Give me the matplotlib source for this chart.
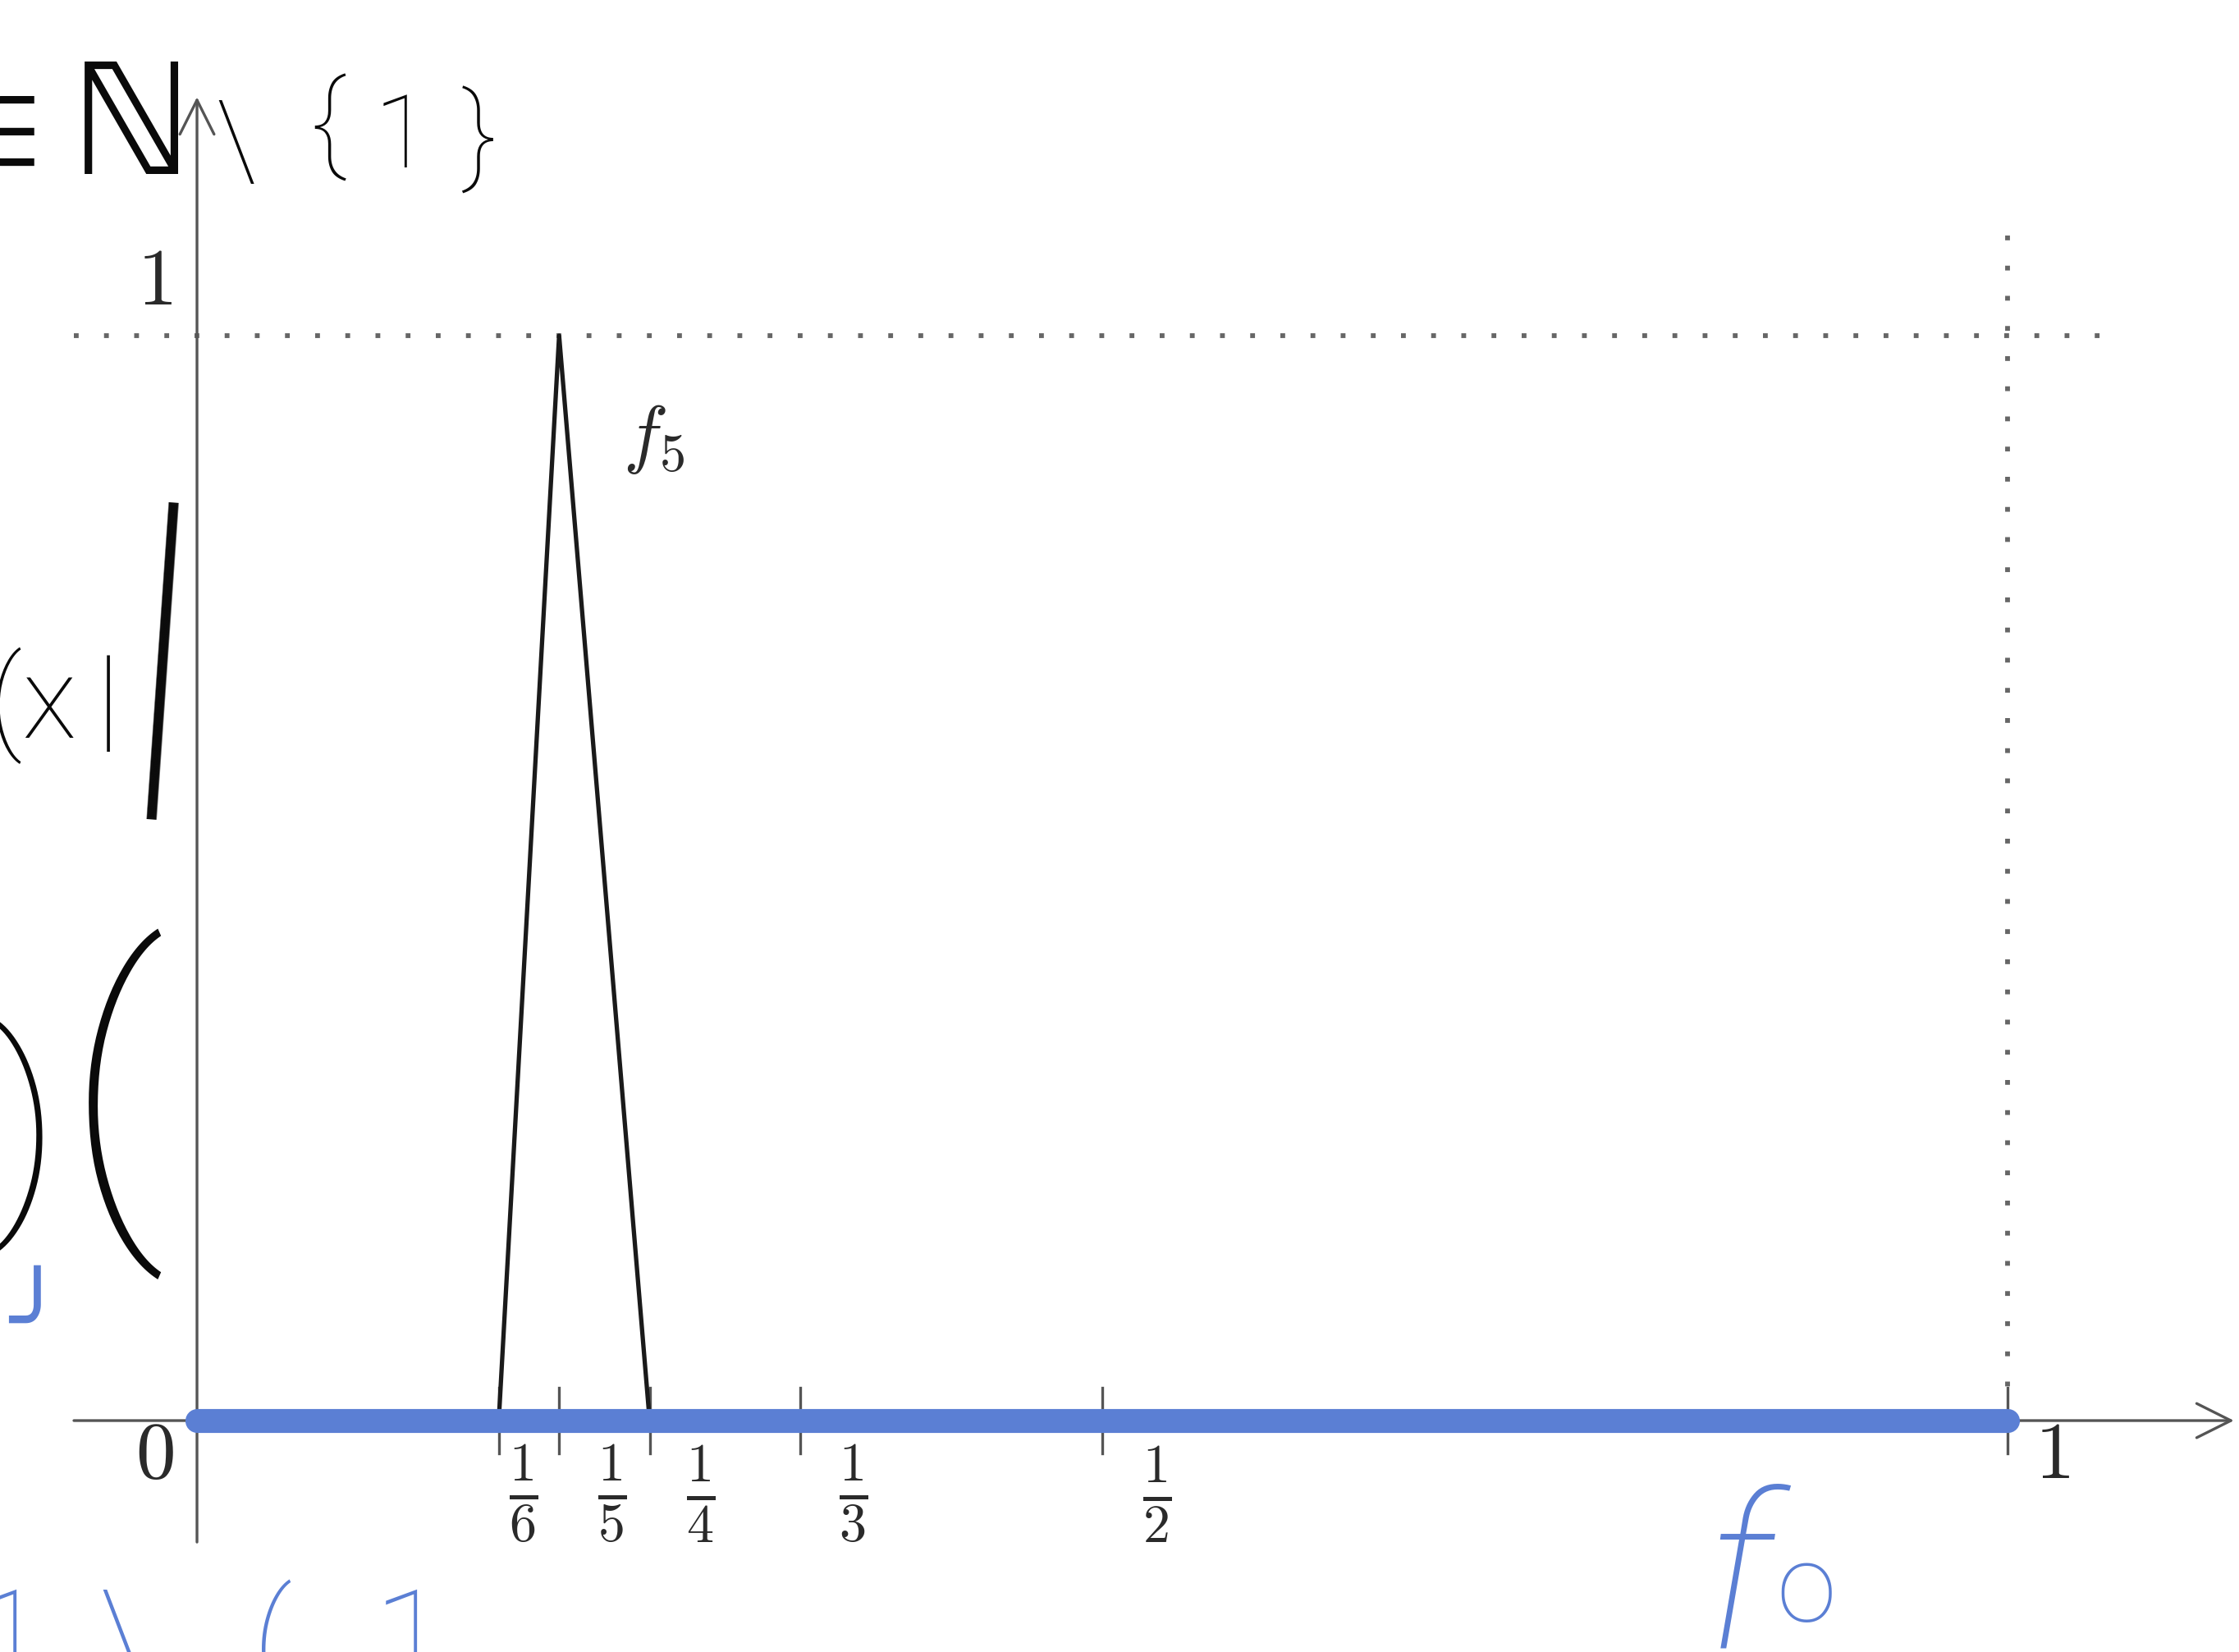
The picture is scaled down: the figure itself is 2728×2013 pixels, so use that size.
import numpy as np
import matplotlib
matplotlib.use("Agg")
import matplotlib.pyplot as plt

plt.rcParams['mathtext.fontset'] = 'cm'

# ─── Données ──────────────────────────────────────────────────────────────────
f5_x = [1/6, 1/5, 1/4]          # triangle f_5
f5_y = [0, 1, 0]
f0_x = [0, 1]                   # fonction nulle f_0
f0_y = [0, 0]
tick_vals = [1/6, 1/5, 1/4, 1/3, 1/2]
tick_labels = [r'$\frac{1}{6}$', r'$\frac{1}{5}$', r'$\frac{1}{4}$',
               r'$\frac{1}{3}$', r'$\frac{1}{2}$']
label_shift = [0.0135, 0.029, 0.028, 0.029, 0.030]   # décalage des étiquettes

GRIS  = "#555555"
NOIR  = "#1a1a1a"
BLEU  = "#5B7FD4"
ENCRE = "#0a0a0a"
MAIN  = 'Roboto'          # "écriture" manuscrite
SYMB  = 'DejaVu Sans'     # symboles absents de Roboto

W, H = 2728, 2013
fig = plt.figure(figsize=(W / 100, H / 100), dpi=100)
ax = fig.add_axes([0, 0, 1, 1])
ax.set_xlim(-0.1088, 1.1278)
ax.set_ylim(-0.2133, 1.3094)
ax.axis('off')

# ── Axes ─────────────────────────────────────────────────────────────────────
ax.annotate('', xy=(1.125, 0), xytext=(-0.068, 0),
            arrowprops=dict(arrowstyle='->', color=GRIS, lw=2.4,
                            mutation_scale=75, shrinkA=0, shrinkB=0))
ax.annotate('', xy=(0, 1.22), xytext=(0, -0.112),
            arrowprops=dict(arrowstyle='->', color=GRIS, lw=2.4,
                            mutation_scale=75, shrinkA=0, shrinkB=0))

# pointillés y = 1 et x = 1
ax.plot([-0.068, 1.054], [1, 1], color="#666666", lw=4.2, dashes=(1, 5.3))
ax.plot([1, 1], [1.092, 0], color="#666666", lw=4.2, dashes=(1, 5.3))

# graduations
for xv in tick_vals + [1]:
    ax.plot([xv, xv], [-0.03, 0.03], color=GRIS, lw=2.4)

# ── Courbes ──────────────────────────────────────────────────────────────────
ax.plot(f5_x, f5_y, color=NOIR, lw=3.8, zorder=3)
ax.plot(f0_x, f0_y, color=BLEU, lw=21, solid_capstyle='round', zorder=4)

# ── Étiquettes ───────────────────────────────────────────────────────────────
for xv, lab, dx in zip(tick_vals, tick_labels, label_shift):
    ax.text(xv + dx, -0.068, lab, fontsize=68, color="#2a2a2a",
            ha='center', va='center')
ax.text(-0.0236, -0.033, r'$0$', fontsize=70, color="#2a2a2a", ha='center', va='center')
ax.text(1.0245, -0.033, r'$1$', fontsize=70, color="#2a2a2a", ha='center', va='center')
ax.text(-0.0236, 1.049, r'$1$', fontsize=70, color="#2a2a2a", ha='center', va='center')
ax.text(0.2525, 0.905, r'$f_5$', fontsize=66, color="#2a2a2a", ha='center', va='center')

# ── Annotations manuscrites (positions en pixels de la figure) ──────────────
def main(px, py, s, size, color=ENCRE, family=MAIN, weight='light', **kw):
    fig.text(px / W, 1 - py / H, s, fontsize=size, color=color,
             ha='center', va='center', family=family, weight=weight, **kw)

# en haut : ∈ ℕ \ {1}
main(0, 168, "∈", 85, family=SYMB, weight='normal')
main(160, 160, "ℕ", 135, family=SYMB, weight='normal')
main(287, 180, "\\", 95)
main(400, 155, "{", 95)
main(490, 170, "1", 90)
main(583, 170, "}", 95)

# à gauche : (x|   |
main(40, 860, "(x", 100)
main(132, 860, "|", 100)
main(196, 815, "|", 330, rotation=-4, weight=100)

# à gauche : )(
main(30, 1385, ")", 200)
main(140, 1345, "(", 300, weight=100)
main(45, 1615, "╯", 80, color=BLEU, family=SYMB, weight='normal')

# en bas : 1 \ ( 1
for xs, s in zip([12, 152, 332, 500], ["1", "\\", "(", "1"]):
    main(xs, 2010, s, 120, color=BLEU)

# f0
main(2118, 1935, "f", 190, color=BLEU, style='italic')
main(2200, 1940, "o", 95, color=BLEU)

fig.savefig("out.png", dpi=100)
